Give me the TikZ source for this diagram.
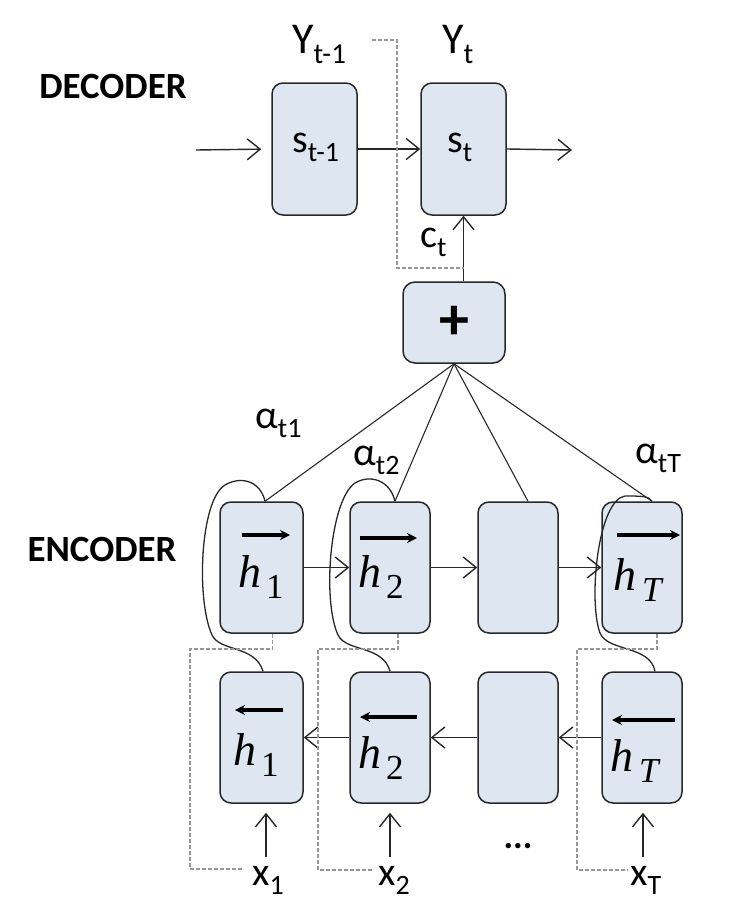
\documentclass[tikz,border=0pt]{standalone}
\usepackage{fontspec}
\setmainfont{Carlito}
\newfontfamily\tms{Liberation Serif}
\usetikzlibrary{arrows.meta}
\definecolor{boxfill}{RGB}{222,230,242}
\definecolor{edge}{RGB}{40,40,40}
\definecolor{dashgray}{RGB}{150,150,150}
\newcommand\lb[2]{{\fontsize{40}{40}\selectfont #1}\raisebox{-9pt}{\fontsize{28}{28}\selectfont #2}}
\newcommand\lbY[2]{{\fontsize{44}{44}\selectfont #1}\raisebox{-10pt}{\fontsize{29}{29}\selectfont #2}}
\newcommand\hv[2]{{\tms\fontsize{46}{46}\selectfont\itshape h}\hspace{#2}\raisebox{-11pt}{\tms\fontsize{35}{35}\selectfont #1}}
\begin{document}
\begin{tikzpicture}[x=1pt,y=-1pt,
  box/.style={rectangle, rounded corners=11pt, draw=edge, line width=1.5pt, fill=boxfill, minimum width=83pt, minimum height=131pt, inner sep=0pt},
  conn/.style={draw=edge, line width=1.4pt, -{Straight Barb[length=13pt,width=21pt]}},
  thinline/.style={draw=edge, line width=1.1pt},
  loopline/.style={draw=edge, line width=1.3pt},
  dashline/.style={draw=dashgray, line width=1.8pt, dash pattern=on 4pt off 2pt},
  harr/.style={draw=black, line width=3.4pt, -{Stealth[length=10pt,width=10pt]}},
  lbl/.style={anchor=base west, inner sep=0pt},
  head/.style={font=\bfseries\fontsize{37}{37}\selectfont, inner sep=0pt},
]
\useasboundingbox (0,0) rectangle (728,910);

% headings
\node[head] (dec) at (113,86) {DECODER};
\node[head] (enc) at (102,549) {ENCODER};

% decoder
\node[box, minimum width=85pt, minimum height=132pt] (s1) at (314.5,149) {};
\node[box, minimum width=85pt, minimum height=132pt] (st) at (463.5,149) {};
\node[lbl] (s1l) at (292,152) {\lb{s}{t-1}};
\node[lbl] (stl) at (447,152) {\lb{s}{t}};
\node[lbl] (y1l) at (292,53) {\lbY{Y}{t-1}};
\node[lbl] (ytl) at (442,53) {\lbY{Y}{t}};
\node[box, minimum width=102pt, minimum height=81pt, rounded corners=12pt,
      font=\bfseries\fontsize{60}{60}\selectfont] (plus) at (454,322.5) {+};
\node[lbl] (ctl) at (420,247) {\lb{c}{t}};

\coordinate (din) at (196,150);
\coordinate (dout) at (572,150);
\draw[conn, shorten >=10pt] (din) -- (s1.west);
\draw[conn] (s1.east) -- (st.west);
\draw[conn] (st.east) -- (dout);
\draw[conn] (plus.north -| st.south) -- (st.south);
\coordinate (yd) at (372,40);
\coordinate (ydn) at (397,268);
\draw[dashline] (yd) -| (ydn) -- (ydn -| st.south);

% encoder boxes
\node[box] (f1) at (261.5,567.5) {};
\node[box, minimum width=80pt] (f2) at (390,567.5) {};
\node[box, minimum width=80pt] (fm) at (518,567.5) {};
\node[box, minimum width=80pt] (fT) at (642,567.5) {};
\node[box] (b1) at (261.5,737.5) {};
\node[box, minimum width=80pt] (b2) at (390,737.5) {};
\node[box, minimum width=80pt] (bm) at (518,737.5) {};
\node[box, minimum width=80pt] (bT) at (642,737.5) {};

% h labels
\node[lbl] (hf1) at (238,587) {\hv{1}{5pt}};
\node[lbl] (hf2) at (358,587) {\hv{2}{5pt}};
\node[lbl] (hfT) at (613,590) {\hv{\itshape T}{6pt}};
\node[lbl] (hb1) at (233,765) {\hv{1}{5pt}};
\node[lbl] (hb2) at (358,768) {\hv{2}{5pt}};
\node[lbl] (hbT) at (610,771) {\hv{\itshape T}{6pt}};
\draw[harr] ([shift={(-19.5,-32.5)}]f1.center) -- ++(48,0);
\draw[harr] ([shift={(-30,-29.5)}]f2.center) -- ++(57,0);
\draw[harr] ([shift={(-25,-32.5)}]fT.center) -- ++(63,0);
\draw[harr] ([shift={(21.5,-27.5)}]b1.center) -- ++(-48,0);
\draw[harr] ([shift={(27,-20.5)}]b2.center) -- ++(-57,0);
\draw[harr] ([shift={(33,-17.5)}]bT.center) -- ++(-63,0);

% recurrent arrows
\draw[conn] (f1.east) -- (f2.west);
\draw[conn] (f2.east) -- (fm.west);
\draw[conn] (fm.east) -- (fT.west);
\draw[conn] (b2.west) -- (b1.east);
\draw[conn] (bm.west) -- (b2.east);
\draw[conn] (bT.west) -- (bm.east);

% attention lines
\coordinate (a1) at ([xshift=3.5pt]f1.north);
\coordinate (a2) at ([xshift=5pt]f2.north);
\coordinate (am) at ([xshift=10pt]fm.north);
\coordinate (aT) at ([xshift=10pt]fT.north);
\draw[thinline] (plus.south) -- (a1);
\draw[thinline] (plus.south) -- (a2);
\draw[thinline] (plus.south) -- (am);
\draw[thinline] (plus.south) -- (aT);
\node[lbl] (al1) at (255,428) {\lb{α}{t1}};
\node[lbl] (al2) at (353,465) {\lb{α}{t2}};
\node[lbl] (alT) at (635,463) {\lb{α}{tT}};

% loops joining forward and backward states
\coordinate (b1t) at ([xshift=1.5pt]b1.north);
\coordinate (b2t) at (b2.north);
\coordinate (bTt) at ([xshift=13pt]bT.north);
\draw[loopline] (a1) .. controls (260,480) and (240,476) .. (225,485)
  .. controls (200,500) and (196,600) .. (212,635)
  .. controls (220,652) and (255,645) .. (b1t);
\draw[loopline] (a2) .. controls (390,480) and (370,474) .. (355,483)
  .. controls (330,500) and (322,600) .. (338,635)
  .. controls (346,652) and (383,645) .. (b2t);
\draw[loopline] (aT) .. controls (650,496) and (640,496) .. (625,496)
  .. controls (598,500) and (588,600) .. (600,633)
  .. controls (608,652) and (650,645) .. (bTt);

% inputs
\node[lbl] (x1) at (252,885) {\lb{x}{1}};
\node[lbl] (x2) at (378,885) {\lb{x}{2}};
\node[lbl] (xT) at (630,885) {\lb{x}{T}};
\node[font=\bfseries\fontsize{36}{36}\selectfont, inner sep=0pt] (dots) at (518,846) {...};
\coordinate (u1) at (266,857);
\coordinate (u2) at (390,857);
\coordinate (uT) at (643,857);
\draw[conn, shorten >=9pt] (u1) -- (u1 |- b1.south);
\draw[conn, shorten >=9pt] (u2) -- (u2 |- b2.south);
\draw[conn, shorten >=9pt] (uT) -- (uT |- bT.south);
\coordinate (ex1) at (190,869);
\coordinate (tx1) at (243,869);
\coordinate (ex2) at (318,870);
\coordinate (tx2) at (373,870);
\coordinate (exT) at (577,870);
\coordinate (txT) at (628,870);
\draw[dashline] ([xshift=11pt]f1.south) -- ++(0,15) -| (ex1) -- (tx1);
\draw[dashline] ([xshift=8pt]f2.south) -- ++(0,15) -| (ex2) -- (tx2);
\draw[dashline] ([xshift=15pt]fT.south) -- ++(0,15) -| (exT) -- (txT);
\end{tikzpicture}
\end{document}
